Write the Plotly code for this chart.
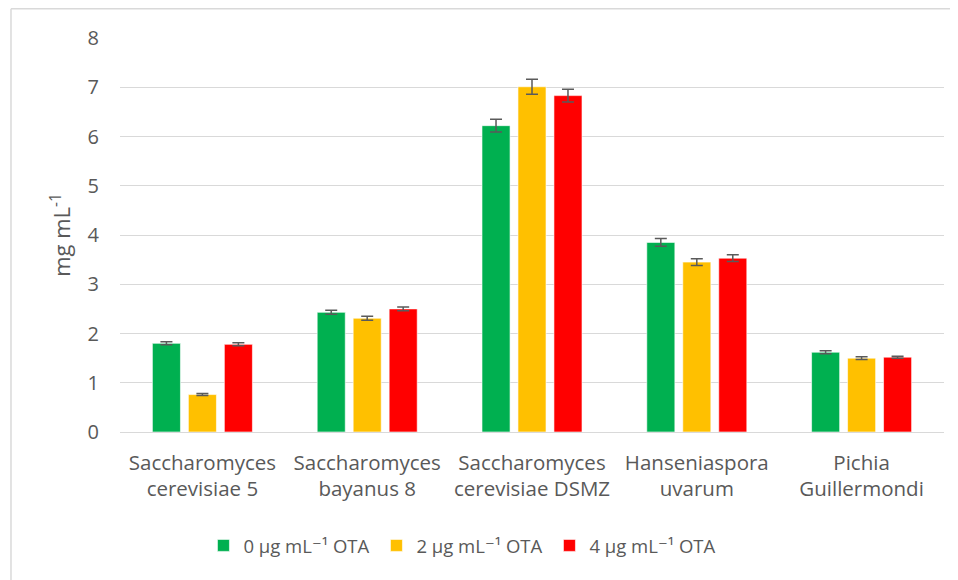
import plotly.graph_objects as go

categories = ["Saccharomyces<br>cerevisiae 5", "Saccharomyces<br>bayanus 8",
              "Saccharomyces<br>cerevisiae DSMZ", "Hanseniaspora<br>uvarum",
              "Pichia<br>Guillermondi"]
series_names = ["0 μg mL⁻¹ OTA", "2 μg mL⁻¹ OTA", "4 μg mL⁻¹ OTA"]
vals_0 = [1.80, 2.43, 6.22, 3.85, 1.62]
vals_2 = [0.76, 2.31, 7.01, 3.45, 1.50]
vals_4 = [1.78, 2.50, 6.83, 3.53, 1.52]
err_0 = [0.03, 0.04, 0.13, 0.08, 0.03]
err_2 = [0.02, 0.04, 0.15, 0.07, 0.03]
err_4 = [0.03, 0.04, 0.13, 0.07, 0.02]
colors = ["#00B050", "#FFC000", "#FF0000"]
y_ticks = [0, 1, 2, 3, 4, 5, 6, 7, 8]

font_family = "Open Sans, DejaVu Sans, sans-serif"
text_color = "#595959"

fig = go.Figure()
for name, vals, errs, col in zip(series_names, [vals_0, vals_2, vals_4],
                                  [err_0, err_2, err_4], colors):
    fig.add_trace(go.Bar(
        x=categories, y=vals, name=name,
        marker=dict(color=col, line=dict(color="rgba(255,255,255,0.6)", width=1)),
        error_y=dict(type="data", array=errs, visible=True,
                     color="#5a5a5a", thickness=1.5, width=6),
    ))

fig.update_layout(
    width=950, height=572,
    margin=dict(l=112, r=14, t=30, b=148),
    paper_bgcolor="white", plot_bgcolor="white",
    barmode="group", bargap=0.345, bargroupgap=0.22,
    font=dict(family=font_family, size=20, color=text_color),
    showlegend=True,
    legend=dict(orientation="h", x=0.4162, xanchor="center", y=-0.289, yanchor="middle",
                font=dict(size=18.5, color=text_color), traceorder="normal",
                entrywidth=128, itemwidth=30),
    xaxis=dict(showgrid=False, showline=False, ticks="", ticklabelstandoff=16,
               tickfont=dict(size=20.5, color=text_color)),
    yaxis=dict(range=[0, 8], tickvals=y_ticks, showgrid=True, gridcolor="#d9d9d9",
               gridwidth=1, zeroline=True, zerolinecolor="#d9d9d9", zerolinewidth=1,
               showline=False, ticks="", ticklabelstandoff=20,
               tickfont=dict(size=20, color=text_color),
               title=dict(text="mg mL<sup>-1</sup>", standoff=10,
                          font=dict(size=22, color=text_color))),
    shapes=[
        dict(type="line", xref="paper", yref="paper", x0=-0.1323, x1=1.1, y0=1.074, y1=1.074,
             line=dict(color="#d9d9d9", width=1.5)),
        dict(type="line", xref="paper", yref="paper", x0=-0.1323, x1=-0.1323, y0=1.074, y1=-0.5,
             line=dict(color="#d9d9d9", width=1.5)),
    ],
)

fig.write_html("out.html")
